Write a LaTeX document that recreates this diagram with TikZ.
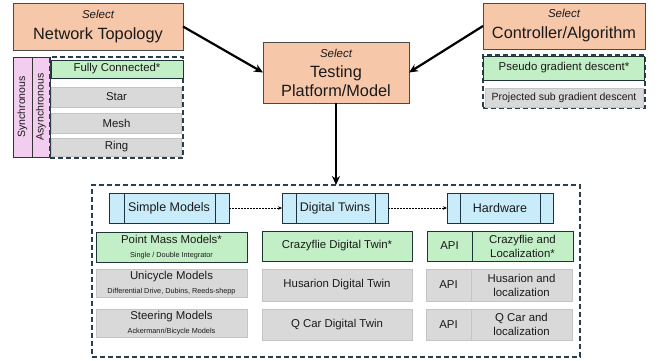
\documentclass[tikz,border=0pt]{standalone}
\usepackage{fontspec}
\setmainfont{Liberation Sans}
\usetikzlibrary{arrows.meta}
\definecolor{peach}{HTML}{F7C7AA}
\definecolor{peachline}{HTML}{4A4A4A}
\definecolor{gfill}{HTML}{C3EFC6}
\definecolor{gline}{HTML}{1F3535}
\definecolor{grfill}{HTML}{D9D9D9}
\definecolor{grline}{HTML}{C4C4C4}
\definecolor{pfill}{HTML}{F2CDEF}
\definecolor{bfill}{HTML}{C8ECFA}
\definecolor{bline}{HTML}{1F3040}
\definecolor{slate}{HTML}{2C3E4C}
\definecolor{txt}{HTML}{1A1A1A}
\tikzset{
  every node/.style={inner sep=0pt, outer sep=0pt, text=txt, align=center},
  selbox/.style={fill=peach, draw=peachline, line width=0.9pt},
  gbox/.style={fill=gfill, draw=gline, line width=0.9pt},
  grbox/.style={fill=grfill, draw=grline, line width=0.8pt},
  pbox/.style={fill=pfill, draw=black!80, line width=0.9pt},
  bbox/.style={fill=bfill, draw=bline, line width=0.9pt},
  dbox/.style={draw=slate, line width=1.3pt, dash pattern=on 5pt off 3pt},
  bigarrow/.style={line width=2.2pt, -{Stealth[length=9pt,width=8pt]}},
  dotarrow/.style={line width=0.6pt, dash pattern=on 2pt off 1pt, -{Stealth[length=4pt,width=3.5pt]}},
  f15/.style={font=\fontsize{16.3}{19}\selectfont},
  f12/.style={font=\fontsize{12.5}{14}\selectfont},
  f11/.style={font=\fontsize{11.4}{13}\selectfont},
  f10/.style={font=\fontsize{10.5}{12}\selectfont},
}
\newcommand{\sel}{{\fontsize{11.5}{13}\selectfont\itshape Select}}
\newcommand{\subcap}[1]{{\fontsize{7.3}{8}\selectfont #1}}
\begin{document}
\begin{tikzpicture}[x=1pt,y=-1pt]
\useasboundingbox (0,0) rectangle (660,360);
% Top selector boxes
\node[selbox, minimum width=170pt, minimum height=47pt, f15] (nt) at (98,26.5)
  {\sel\\[2pt]Network Topology};
\node[selbox, minimum width=146pt, minimum height=61pt, f15] (tp) at (336,72.5)
  {\sel\\[1pt]Testing\\[0pt]Platform/Model};
\node[selbox, minimum width=162pt, minimum height=46pt, f15] (ct) at (564,26)
  {\sel\\[2pt]Controller/Algorithm};

% Topology options
\node[pbox, rotate=90, minimum width=100pt, minimum height=19pt, f10] (sync) at (22.5,107) {Synchronous};
\node[pbox, rotate=90, minimum width=100pt, minimum height=18pt, f10] (async) at (41,107) {Asynchronous};
\node[dbox, minimum width=133pt, minimum height=101pt] (topo) at (116.5,107.5) {};
\node[gbox, minimum width=132pt, minimum height=18pt, f11] (fc) at (117,69) {Fully Connected*};
\node[grbox, minimum width=130pt, minimum height=20pt, f11] (star) at (116.5,97) {Star};
\node[grbox, minimum width=130pt, minimum height=20pt, f11] (mesh) at (116.5,123) {Mesh};
\node[grbox, minimum width=130pt, minimum height=18pt, f11] (ring) at (116.5,147) {Ring};

% Controller options
\node[dbox, minimum width=162pt, minimum height=53pt] (algo) at (564,81.5) {};
\node[gbox, minimum width=161pt, minimum height=24pt, f11] (pgd) at (564,68) {Pseudo gradient descent*};
\node[grbox, minimum width=158pt, minimum height=19pt, f10] (psgd) at (564,97.5) {Projected sub gradient descent};

% Main arrows
\draw[bigarrow] (nt.east) -- (tp.west);
\draw[bigarrow] (ct.west) -- (tp.east);

% Bottom platform box
\node[dbox, minimum width=488pt, minimum height=172pt] (plat) at (336,271) {};
\draw[bigarrow] (tp.south) -- (plat.north);

% Column headers
\node[bbox, minimum width=120pt, minimum height=30pt, f12] (sm) at (169,208) {Simple Models};
\node[bbox, minimum width=106pt, minimum height=30pt, f12] (dt) at (335,208) {Digital Twins};
\node[bbox, minimum width=106pt, minimum height=30pt, f12] (hw) at (500,208) {Hardware};
\draw[bline, line width=0.9pt] ([xshift=15pt]sm.north west) -- ([xshift=15pt]sm.south west);
\draw[bline, line width=0.9pt] ([xshift=-14pt]sm.north east) -- ([xshift=-14pt]sm.south east);
\draw[bline, line width=0.9pt] ([xshift=14pt]dt.north west) -- ([xshift=14pt]dt.south west);
\draw[bline, line width=0.9pt] ([xshift=-13pt]dt.north east) -- ([xshift=-13pt]dt.south east);
\draw[bline, line width=0.9pt] ([xshift=13pt]hw.north west) -- ([xshift=13pt]hw.south west);
\draw[bline, line width=0.9pt] ([xshift=-13pt]hw.north east) -- ([xshift=-13pt]hw.south east);
\draw[dotarrow] (sm.east) -- (dt.west);
\draw[dotarrow] (dt.east) -- (hw.west);

% Simple models column
\node[gbox, minimum width=151pt, minimum height=30pt, f11] (pm) at (171.5,247)
  {Point Mass Models*\\[1pt]\subcap{Single / Double Integrator}};
\node[grbox, minimum width=151pt, minimum height=28pt, f11] (uni) at (171.5,283)
  {Unicycle Models\\[1pt]\subcap{Differential Drive, Dubins, Reeds-shepp}};
\node[grbox, minimum width=151pt, minimum height=28pt, f11] (ste) at (171.5,323)
  {Steering Models\\[1pt]\subcap{Ackermann/Bicycle Models}};

% Digital twins column
\node[gbox, minimum width=150pt, minimum height=30pt, f11] (cdt) at (337,246) {Crazyflie Digital Twin*};
\node[grbox, minimum width=150pt, minimum height=32pt, f11] (hdt) at (337,285) {Husarion Digital Twin};
\node[grbox, minimum width=150pt, minimum height=31pt, f11] (qdt) at (337,324.5) {Q Car Digital Twin};

% Hardware column
\node[gbox, minimum width=45pt, minimum height=30pt, f11] (api1) at (449.5,246) {API};
\node[gbox, minimum width=101pt, minimum height=30pt, f11] (cf) at (522.5,246) {Crazyflie and\\[1pt]Localization*};
\node[grbox, minimum width=45pt, minimum height=32pt, f11] (api2) at (448.5,285) {API};
\node[grbox, minimum width=101pt, minimum height=32pt, f11] (hus) at (521.5,285) {Husarion and\\[1pt]localization};
\node[grbox, minimum width=45pt, minimum height=31pt, f11] (api3) at (448.5,324.5) {API};
\node[grbox, minimum width=101pt, minimum height=31pt, f11] (qc) at (521.5,324.5) {Q Car and\\[1pt]localization};
\end{tikzpicture}
\end{document}
